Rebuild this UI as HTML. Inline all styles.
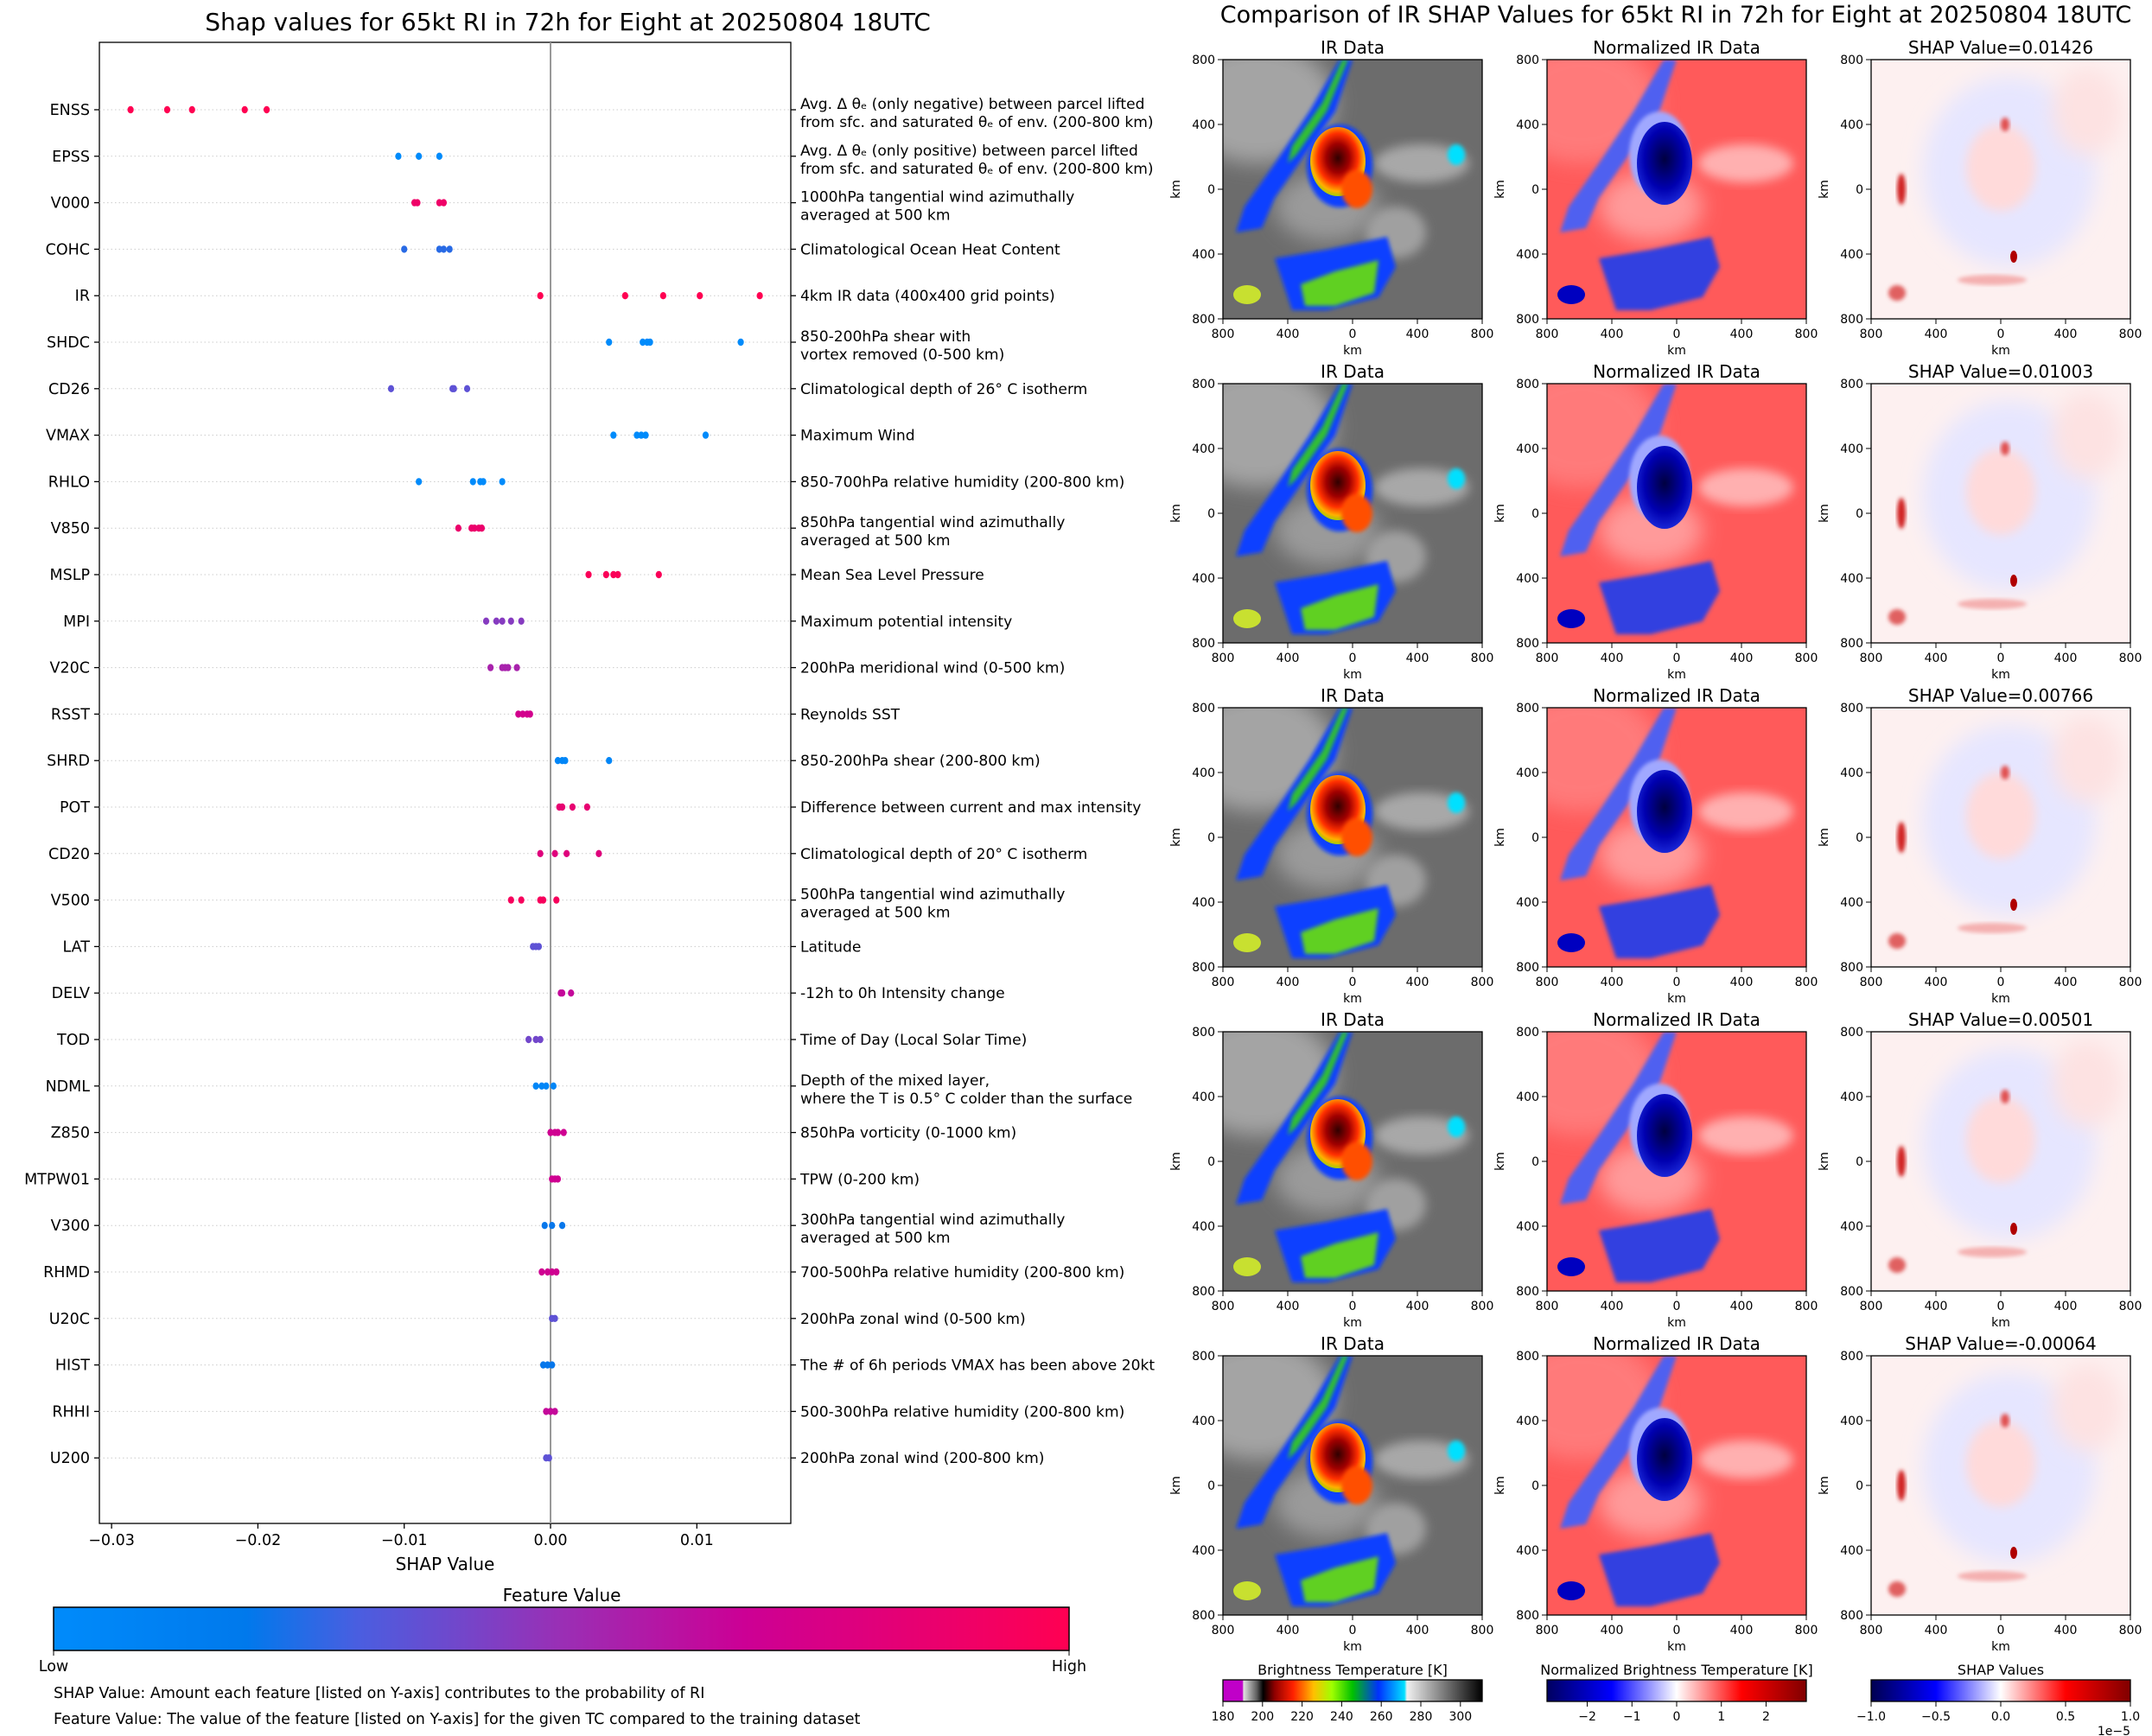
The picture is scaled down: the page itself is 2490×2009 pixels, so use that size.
<!DOCTYPE html>
<html><head><meta charset="utf-8">
<style>
html,body{margin:0;padding:0;background:#fff;}
svg{display:block;font-family:"DejaVu Sans","Liberation Sans",sans-serif;}
</style></head>
<body>
<svg id="fig" width="2490" height="2009" viewBox="0 0 2490 2009" xmlns="http://www.w3.org/2000/svg">
<defs>
  <filter id="blur6" x="-20%" y="-20%" width="140%" height="140%"><feGaussianBlur stdDeviation="6"/></filter>
  <filter id="blur3" x="-20%" y="-20%" width="140%" height="140%"><feGaussianBlur stdDeviation="2.5"/></filter>
  <filter id="blur12" x="-30%" y="-30%" width="160%" height="160%"><feGaussianBlur stdDeviation="12"/></filter>
  <linearGradient id="fvGrad" x1="0" x2="1" y1="0" y2="0">
    <stop offset="0" stop-color="#008bfb"/><stop offset="0.19" stop-color="#0079ec"/>
    <stop offset="0.3" stop-color="#4a5ee0"/><stop offset="0.5" stop-color="#9a2fb5"/>
    <stop offset="0.68" stop-color="#cc0095"/><stop offset="1" stop-color="#ff0052"/>
  </linearGradient>
  <linearGradient id="irGrad" x1="0" x2="1">
    <stop offset="0" stop-color="#c000c8"/><stop offset="0.075" stop-color="#c000c8"/>
    <stop offset="0.08" stop-color="#e0e0e0"/><stop offset="0.13" stop-color="#606060"/>
    <stop offset="0.155" stop-color="#000"/><stop offset="0.2" stop-color="#900000"/>
    <stop offset="0.27" stop-color="#ff2000"/><stop offset="0.35" stop-color="#ffc000"/>
    <stop offset="0.42" stop-color="#a0ff00"/><stop offset="0.5" stop-color="#00c000"/>
    <stop offset="0.6" stop-color="#0030ff"/><stop offset="0.7" stop-color="#00e0ff"/>
    <stop offset="0.71" stop-color="#f0f0f0"/><stop offset="1" stop-color="#000"/>
  </linearGradient>
  <linearGradient id="bwrGrad" x1="0" x2="1">
    <stop offset="0" stop-color="#000060"/><stop offset="0.25" stop-color="#0000ff"/>
    <stop offset="0.5" stop-color="#ffffff"/><stop offset="0.75" stop-color="#ff0000"/>
    <stop offset="1" stop-color="#800000"/>
  </linearGradient>
  <linearGradient id="seisGrad" x1="0" x2="1">
    <stop offset="0" stop-color="#000050"/><stop offset="0.25" stop-color="#0000ff"/>
    <stop offset="0.5" stop-color="#ffffff"/><stop offset="0.75" stop-color="#ff0000"/>
    <stop offset="1" stop-color="#800000"/>
  </linearGradient>
  <radialGradient id="coreGrad" cx="0.5" cy="0.45" r="0.6">
    <stop offset="0" stop-color="#300000"/><stop offset="0.35" stop-color="#a00000"/>
    <stop offset="0.6" stop-color="#ff3000"/><stop offset="0.8" stop-color="#ffb000"/>
    <stop offset="1" stop-color="#60e000"/>
  </radialGradient>
  <radialGradient id="ncoreGrad" cx="0.5" cy="0.45" r="0.6">
    <stop offset="0" stop-color="#000040"/><stop offset="0.6" stop-color="#0000b0"/>
    <stop offset="1" stop-color="#2030e0"/>
  </radialGradient>
  <clipPath id="pclip"><rect x="0" y="0" width="300" height="300"/></clipPath>
  <g id="irImg" clip-path="url(#pclip)">
    <rect width="300" height="300" fill="#6c6c6c"/>
    <ellipse cx="40" cy="50" rx="90" ry="70" fill="#a4a4a4" filter="url(#blur12)"/>
    <ellipse cx="120" cy="170" rx="60" ry="40" fill="#9a9a9a" filter="url(#blur12)"/>
    <ellipse cx="230" cy="120" rx="55" ry="22" fill="#a8a8a8" filter="url(#blur6)"/>
    <ellipse cx="200" cy="200" rx="35" ry="30" fill="#a0a0a0" filter="url(#blur6)"/>
    <path d="M135 0 L150 0 L130 60 L95 110 L60 160 L45 195 L15 200 L25 170 L60 120 L100 60Z" fill="#1040ff" filter="url(#blur3)"/>
    <path d="M138 0 L145 0 L120 60 L85 110 L75 120 L80 100 L115 50Z" fill="#30c030" filter="url(#blur3)"/>
    <path d="M60 230 L120 220 L190 205 L200 240 L180 275 L120 290 L80 290 L70 260Z" fill="#1040ff" filter="url(#blur3)"/>
    <path d="M90 260 L130 245 L180 232 L175 270 L130 285 L95 285Z" fill="#60d020" filter="url(#blur3)"/>
    <ellipse cx="28" cy="272" rx="16" ry="11" fill="#c8e030"/>
    <ellipse cx="135" cy="123" rx="38" ry="48" fill="#1040ff" filter="url(#blur3)"/>
    <ellipse cx="133" cy="118" rx="32" ry="40" fill="url(#coreGrad)"/>
    <ellipse cx="155" cy="150" rx="18" ry="22" fill="#ff5000" filter="url(#blur3)"/>
    <ellipse cx="270" cy="110" rx="10" ry="12" fill="#00e0ff" filter="url(#blur3)"/>
  </g>
  <g id="nirImg" clip-path="url(#pclip)">
    <rect width="300" height="300" fill="#ff5a5a"/>
    <ellipse cx="40" cy="50" rx="90" ry="70" fill="#ff7a7a" filter="url(#blur12)"/>
    <ellipse cx="120" cy="170" rx="60" ry="40" fill="#ff9a9a" filter="url(#blur12)"/>
    <ellipse cx="230" cy="120" rx="55" ry="22" fill="#ffb0b0" filter="url(#blur6)"/>
    <path d="M135 0 L150 0 L130 60 L95 110 L60 160 L45 195 L15 200 L25 170 L60 120 L100 60Z" fill="#5060f0" filter="url(#blur3)"/>
    <path d="M60 230 L120 220 L190 205 L200 240 L180 275 L120 290 L80 290 L70 260Z" fill="#3040e0" filter="url(#blur3)"/>
    <ellipse cx="28" cy="272" rx="16" ry="11" fill="#0000c0"/>
    <ellipse cx="130" cy="110" rx="35" ry="50" fill="#a0a8ff" filter="url(#blur3)"/>
    <ellipse cx="136" cy="120" rx="32" ry="48" fill="url(#ncoreGrad)"/>
  </g>
  <g id="shapImg" clip-path="url(#pclip)">
    <rect width="300" height="300" fill="#fdf0f0"/>
    <ellipse cx="160" cy="130" rx="100" ry="110" fill="#e6e6ff" filter="url(#blur12)"/>
    <ellipse cx="150" cy="125" rx="40" ry="50" fill="#ffdada" filter="url(#blur6)"/>
    <ellipse cx="250" cy="60" rx="40" ry="50" fill="#fde2e2" filter="url(#blur12)"/>
    <ellipse cx="35" cy="150" rx="5" ry="18" fill="#d02020" filter="url(#blur3)"/>
    <ellipse cx="165" cy="228" rx="4" ry="7" fill="#b00000"/>
    <ellipse cx="155" cy="75" rx="5" ry="8" fill="#e05050" filter="url(#blur3)"/>
    <ellipse cx="140" cy="255" rx="40" ry="6" fill="#f4b0b0" filter="url(#blur3)"/>
    <ellipse cx="30" cy="270" rx="10" ry="9" fill="#e06060" filter="url(#blur3)"/>
  </g>
</defs>

<text x="657" y="35" font-size="28" text-anchor="middle">Shap values for 65kt RI in 72h for Eight at 20250804 18UTC</text>
<g id="beeswarm"></g>

<text x="1939" y="26" font-size="27" text-anchor="middle">Comparison of IR SHAP Values for 65kt RI in 72h for Eight at 20250804 18UTC</text>
<g id="panels"></g>
</svg>

<script>
const features = ["ENSS","EPSS","V000","COHC","IR","SHDC","CD26","VMAX","RHLO","V850","MSLP","MPI","V20C","RSST","SHRD","POT","CD20","V500","LAT","DELV","TOD","NDML","Z850","MTPW01","V300","RHMD","U20C","HIST","RHHI","U200"];
const descriptions = [
 ["Avg. Δ θₑ (only negative) between parcel lifted","from sfc. and saturated θₑ of env. (200-800 km)"],
 ["Avg. Δ θₑ (only positive) between parcel lifted","from sfc. and saturated θₑ of env. (200-800 km)"],
 ["1000hPa tangential wind azimuthally","averaged at 500 km"],
 ["Climatological Ocean Heat Content"],
 ["4km IR data (400x400 grid points)"],
 ["850-200hPa shear with","vortex removed (0-500 km)"],
 ["Climatological depth of 26° C isotherm"],
 ["Maximum Wind"],
 ["850-700hPa relative humidity (200-800 km)"],
 ["850hPa tangential wind azimuthally","averaged at 500 km"],
 ["Mean Sea Level Pressure"],
 ["Maximum potential intensity"],
 ["200hPa meridional wind (0-500 km)"],
 ["Reynolds SST"],
 ["850-200hPa shear (200-800 km)"],
 ["Difference between current and max intensity"],
 ["Climatological depth of 20° C isotherm"],
 ["500hPa tangential wind azimuthally","averaged at 500 km"],
 ["Latitude"],
 ["-12h to 0h Intensity change"],
 ["Time of Day (Local Solar Time)"],
 ["Depth of the mixed layer,","where the T is 0.5° C colder than the surface"],
 ["850hPa vorticity (0-1000 km)"],
 ["TPW (0-200 km)"],
 ["300hPa tangential wind azimuthally","averaged at 500 km"],
 ["700-500hPa relative humidity (200-800 km)"],
 ["200hPa zonal wind (0-500 km)"],
 ["The # of 6h periods VMAX has been above 20kt"],
 ["500-300hPa relative humidity (200-800 km)"],
 ["200hPa zonal wind (200-800 km)"]
];
const shapValues = [
 [-0.0287,-0.0262,-0.0245,-0.0209,-0.0194],
 [-0.0104,-0.0090,-0.0076],
 [-0.0093,-0.0091,-0.0076,-0.0073],
 [-0.0100,-0.0076,-0.0073,-0.0069],
 [-0.0007,0.0051,0.0077,0.0102,0.0143],
 [0.0040,0.0063,0.0066,0.0068,0.0130],
 [-0.0109,-0.0067,-0.0066,-0.0057],
 [0.0043,0.0059,0.0062,0.0065,0.0106],
 [-0.0090,-0.0053,-0.0048,-0.0046,-0.0033],
 [-0.0063,-0.0054,-0.0052,-0.0049,-0.0047],
 [0.0026,0.0038,0.0043,0.0046,0.0074],
 [-0.0044,-0.0037,-0.0033,-0.0027,-0.0020],
 [-0.0041,-0.0033,-0.0031,-0.0029,-0.0023],
 [-0.0022,-0.0019,-0.0016,-0.0014],
 [0.0005,0.0008,0.0010,0.0040],
 [0.0006,0.0008,0.0015,0.0025],
 [-0.0007,0.0003,0.0011,0.0033],
 [-0.0027,-0.0020,-0.0007,-0.0005,0.0004],
 [-0.0012,-0.0010,-0.0008],
 [0.0007,0.0008,0.0014],
 [-0.0015,-0.0010,-0.0007],
 [-0.0010,-0.0006,-0.0003,0.0002],
 [0.0000,0.0003,0.0005,0.0009],
 [0.0001,0.0003,0.0005],
 [-0.0004,0.0001,0.0008],
 [-0.0006,-0.0002,0.0001,0.0004],
 [0.0001,0.0003],
 [-0.0005,-0.0002,0.0001],
 [-0.0003,0.0000,0.0003],
 [-0.0003,-0.0001]
];
const featureValues = [1.0,0.0,0.9,0.25,1.0,0.0,0.35,0.0,0.0,0.88,0.97,0.45,0.55,0.72,0.05,0.85,0.8,0.95,0.35,0.65,0.4,0.05,0.7,0.7,0.2,0.7,0.35,0.2,0.65,0.35];
const xTicks = [-0.03,-0.02,-0.01,0.0,0.01];
const xTickLabels = ["−0.03","−0.02","−0.01","0.00","0.01"];

const NS="http://www.w3.org/2000/svg";
function mk(tag, attrs, parent){const e=document.createElementNS(NS,tag);for(const k in attrs)e.setAttribute(k,attrs[k]);if(parent)parent.appendChild(e);return e;}
function lerp(a,b,t){return a+(b-a)*t;}
const cstops=[[0,[0,139,251]],[0.19,[0,121,236]],[0.3,[74,94,224]],[0.5,[154,47,181]],[0.68,[204,0,149]],[1,[255,0,82]]];
function fvColor(t){for(let i=0;i<cstops.length-1;i++){const [a,ca]=cstops[i],[b,cb]=cstops[i+1];if(t<=b){const u=(t-a)/(b-a);return `rgb(${Math.round(lerp(ca[0],cb[0],u))},${Math.round(lerp(ca[1],cb[1],u))},${Math.round(lerp(ca[2],cb[2],u))})`;}}return "rgb(255,0,82)";}

const PL=115, PR=915, PT=49, PB=1763;
const X0=637, XPER=16930;
const xScale=v=>X0+v*XPER;
const yScale=i=>127+i*53.8;

const bs=document.getElementById('beeswarm');
const frame=mk('rect',{x:PL,y:PT,width:PR-PL,height:PB-PT,fill:'none',stroke:'#000','stroke-width':1.3},bs);


features.forEach((f,i)=>{
  const y=yScale(i);
  const g=mk('line',{x1:PL,x2:PR,y1:y,y2:y,stroke:'#ccc','stroke-width':1,'stroke-dasharray':'1.5,3'},bs);
  
  
  mk('line',{x1:PL-6,x2:PL,y1:y,y2:y,stroke:'#000','stroke-width':1.3},bs);
  mk('line',{x1:PR,x2:PR+6,y1:y,y2:y,stroke:'#000','stroke-width':1.3},bs);
  const t=mk('text',{x:PL-11,y:y+6,'font-size':17.5,'text-anchor':'end'},bs);
  t.textContent=f;
  
  
  const d=descriptions[i];
  const ys = d.length===1 ? [y+6] : [y-1, y+20];
  d.forEach((line,j)=>{
    const dt=mk('text',{x:PR+11,y:ys[j],'font-size':17.1},bs);
    dt.textContent=line;
    
    
  });
});
const zl=mk('line',{x1:X0,x2:X0,y1:PT,y2:PB,stroke:'#999','stroke-width':2},bs);


features.forEach((f,i)=>{
  shapValues[i].forEach(v=>{
    const c=mk('ellipse',{cx:xScale(v),cy:yScale(i),rx:3.6,ry:4.2,fill:fvColor(featureValues[i])},bs);
    
    
  });
});
xTicks.forEach((v,k)=>{
  const x=xScale(v);
  mk('line',{x1:x,x2:x,y1:PB,y2:PB+6,stroke:'#000','stroke-width':1.3},bs);
  const t=mk('text',{x:x,y:PB+25,'font-size':17.5,'text-anchor':'middle'},bs);
  t.textContent=xTickLabels[k];
  
  
});
const xt=mk('text',{x:515,y:1817,'font-size':20,'text-anchor':'middle'},bs);
xt.textContent='SHAP Value';


const fvt=mk('text',{x:650,y:1853,'font-size':20,'text-anchor':'middle'},bs);
fvt.textContent='Feature Value';


const fvb=mk('rect',{x:62,y:1860,width:1175,height:50,fill:'url(#fvGrad)',stroke:'#000','stroke-width':1.5},bs);


[[62,'Low'],[1237,'High']].forEach(([x,s])=>{
  mk('line',{x1:x,x2:x,y1:1910,y2:1916,stroke:'#000'},bs);
  const t=mk('text',{x:x,y:1934,'font-size':17.5,'text-anchor':'middle'},bs);
  t.textContent=s;
  
  
});
[['SHAP Value: Amount each feature [listed on Y-axis] contributes to the probability of RI',1965],['Feature Value: The value of the feature [listed on Y-axis] for the given TC compared to the training dataset',1995]].forEach(([s,y],k)=>{
  const t=mk('text',{x:62,y:y,'font-size':17.5},bs);
  t.textContent=s;
  
  
});

const shapTitles=["SHAP Value=0.01426","SHAP Value=0.01003","SHAP Value=0.00766","SHAP Value=0.00501","SHAP Value=-0.00064"];
const kmTicks=[-800,-400,0,400,800];
const kmLabels=["800","400","0","400","800"];
const colX=[1415,1790,2165];
const rowY=[69,444,819,1194,1569];
const pn=document.getElementById('panels');
const kmScale=(v,start)=>start+(v+800)/1600*300;
rowY.forEach((y,r)=>{
  const titles=["IR Data","Normalized IR Data",shapTitles[r]];
  const imgs=["#irImg","#nirImg","#shapImg"];
  colX.forEach((x,c)=>{
    const g=mk('g',{},pn);
    
    
    mk('use',{href:imgs[c],x:x,y:y},g);
    mk('rect',{x:x,y:y,width:300,height:300,fill:'none',stroke:'#000','stroke-width':1.3},g);
    const t=mk('text',{x:x+150,y:y-7,'font-size':20,'text-anchor':'middle'},g);
    t.textContent=titles[c];
    
    
    kmTicks.forEach((v,k)=>{
      const px=kmScale(v,x);
      mk('line',{x1:px,x2:px,y1:y+300,y2:y+306,stroke:'#000'},g);
      const tl=mk('text',{x:px,y:y+322,'font-size':14,'text-anchor':'middle'},g);
      tl.textContent=kmLabels[k];
      const py=y+300-(v+800)/1600*300;
      mk('line',{x1:x-6,x2:x,y1:py,y2:py,stroke:'#000'},g);
      const yl=mk('text',{x:x-9,y:py+5,'font-size':14,'text-anchor':'end'},g);
      yl.textContent=kmLabels[k];
    });
    const xk=mk('text',{x:x+150,y:y+341,'font-size':14,'text-anchor':'middle'},g);
    xk.textContent='km';
    const yk=mk('text',{x:x-50,y:y+150,'font-size':14,'text-anchor':'middle',transform:`rotate(-90 ${x-50} ${y+150})`},g);
    yk.textContent='km';
  });
});
const cbs=[
 {title:"Brightness Temperature [K]",fill:"url(#irGrad)",min:180,max:311,ticks:[180,200,220,240,260,280,300],labels:["180","200","220","240","260","280","300"],name:'brightness-colorbar'},
 {title:"Normalized Brightness Temperature [K]",fill:"url(#bwrGrad)",min:-2.9,max:2.9,ticks:[-2,-1,0,1,2],labels:["−2","−1","0","1","2"],name:'normalized-colorbar'},
 {title:"SHAP Values",fill:"url(#seisGrad)",min:-1,max:1,ticks:[-1,-0.5,0,0.5,1],labels:["−1.0","−0.5","0.0","0.5","1.0"],name:'shap-colorbar'}
];
cbs.forEach((cb,c)=>{
  const x=colX[c];
  const g=mk('g',{},pn);
  
  
  const t=mk('text',{x:x+150,y:1938,'font-size':16,'text-anchor':'middle'},g);
  t.textContent=cb.title;
  mk('rect',{x:x,y:1944,width:300,height:25,fill:cb.fill,stroke:'#000','stroke-width':1.3},g);
  cb.ticks.forEach((v,k)=>{
    const px=x+(v-cb.min)/(cb.max-cb.min)*300;
    mk('line',{x1:px,x2:px,y1:1969,y2:1975,stroke:'#000'},g);
    const tl=mk('text',{x:px,y:1991,'font-size':14,'text-anchor':'middle'},g);
    tl.textContent=cb.labels[k];
  });
});
const ex=mk('text',{x:2465,y:2008,'font-size':14,'text-anchor':'end'},pn);
ex.textContent='1e−5';


</script>
</body></html>
